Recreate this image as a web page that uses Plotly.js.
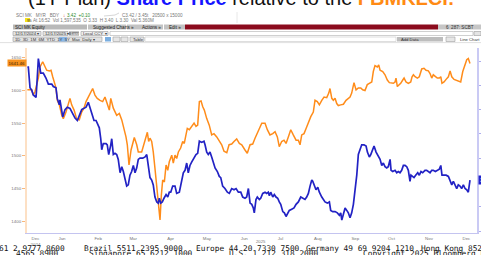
<!DOCTYPE html>
<html><head><meta charset="utf-8">
<script src="https://cdn.plot.ly/plotly-3.0.1.min.js"></script>
<style>html,body{margin:0;padding:0;background:#fff;overflow:hidden}#chart{width:481px;height:255px}</style>
</head><body><div id="chart"></div>
<script>
// ---- data (days counted from 2025-01-01) ----
const orangeDay=[-14.7,-11.1,-9.8,-8.4,-5.6,-4.2,-2.0,-0.1,1.3,3.5,4.9,6.3,7.6,9.0,10.1,11.8,13.8,15.1,17.3,19.2,20.6,22.0,24.0,26.2,28.3,30.3,32.2,33.9,35.8,37.8,39.4,41.3,43.2,45.5,47.7,49.6,51.5,53.2,54.4,56.5,59.3,61.5,63.5,65.4,67.0,68.1,69.5,71.2,72.6,73.9,75.9,77.2,80.0,81.9,83.6,84.7,85.8,86.9,88.3,89.6,91.0,92.5,93.8,95.2,96.3,97.4,98.8,100.2,101.6,102.9,104.9,106.2,107.6,109.0,110.4,112.3,114.0,115.3,116.7,117.8,119.5,121.5,123.4,125.0,126.4,127.8,129.2,130.6,131.9,133.9,136.0,138.0,139.9,142.2,144.3,146.3,148.2,150.5,152.4,154.6,156.5,158.7,160.9,162.9,165.6,167.5,169.8,172.0,173.9,176.6,179.5,182.2,184.1,186.3,188.6,190.5,192.4,194.0,196.0,197.9,199.6,201.5,203.5,205.6,207.9,209.8,211.2,212.6,214.5,216.2,218.1,220.1,222.2,223.6,225.5,227.2,229.2,231.1,233.3,235.0,236.0,237.5,238.8,240.2,241.6,242.9,244.9,247.1,249.3,251.2,252.6,254.0,255.9,257.6,259.5,261.5,263.1,265.0,266.9,268.6,270.6,271.9,273.3,275.2,276.4,277.5,279.7,281.6,283.5,285.2,287.2,288.5,289.9,290.7,291.8,293.5,294.6,296.3,297.4,299.0,300.9,302.9,304.0,305.1,306.5,308.4,310.0,312.0,313.9,315.6,317.5,318.9,320.3,321.6,323.3,324.9,326.6,327.8,328.8,330.5,332.2,334.1,335.5,336.9,338.8,340.4,342.3,344.3,346.0,347.9,349.3,350.6,352.0];
const orangeVal=[1601,1601,1593,1598,1619,1636,1644,1636,1631,1630,1631,1621,1613,1604,1585,1578,1562,1557,1567,1580,1588,1578,1570,1556,1555,1567,1573,1583,1590,1598,1603,1593,1588,1585,1583,1590,1580,1570,1588,1573,1562,1565,1555,1542,1529,1517,1486,1509,1517,1528,1517,1506,1506,1517,1527,1536,1522,1527,1522,1506,1481,1455,1435,1402,1440,1463,1460,1486,1478,1491,1501,1489,1501,1496,1506,1512,1522,1519,1532,1542,1540,1545,1550,1545,1547,1583,1584,1575,1570,1557,1547,1532,1534,1529,1522,1517,1507,1505,1517,1518,1522,1526,1519,1517,1509,1504,1517,1518,1527,1537,1550,1550,1540,1532,1534,1537,1529,1514,1522,1524,1519,1529,1540,1532,1524,1524,1517,1532,1534,1542,1552,1560,1567,1585,1583,1578,1585,1590,1589,1596,1603,1588,1585,1588,1580,1577,1578,1579,1585,1588,1590,1596,1612,1601,1604,1604,1601,1600,1609,1611,1613,1629,1638,1636,1639,1631,1629,1624,1616,1612,1612,1611,1613,1619,1606,1609,1611,1616,1619,1613,1611,1613,1621,1624,1621,1619,1621,1633,1634,1631,1630,1626,1619,1624,1621,1619,1619,1621,1611,1613,1617,1621,1630,1621,1617,1616,1614,1613,1629,1639,1647,1649,1641.46];
const blueDay=[-14.7,-13.9,-12.5,-11.1,-9.8,-8.4,-7.5,-6.5,-5.6,-4.8,-3.6,-1.5,0.7,2.7,5.5,6.8,9.0,10.1,11.8,12.3,13.8,14.6,16.5,18.4,20.6,22.9,24.8,26.7,28.9,30.3,32.2,33.9,35.8,37.2,38.6,40.5,42.2,43.6,44.9,46.1,46.9,48.2,50.5,51.5,52.7,54.4,55.2,56.5,57.9,59.3,60.6,62.1,63.5,64.8,66.2,67.6,68.9,70.3,71.7,73.1,74.5,75.9,77.2,78.6,80.9,82.8,84.2,85.5,86.9,88.3,89.6,91.0,92.5,93.8,94.6,95.8,97.1,98.5,100.2,101.6,102.9,104.1,105.7,107.6,109.0,111.2,113.2,114.5,115.9,117.3,118.6,120.0,121.5,123.4,125.0,126.4,127.8,129.7,131.6,132.5,133.9,135.2,136.6,138.0,139.4,140.8,142.7,144.3,145.5,147.1,149.0,151.0,152.6,154.6,156.5,158.2,160.1,162.1,163.7,165.6,167.0,168.4,169.8,171.2,172.5,173.3,174.7,175.8,177.5,178.6,180.3,182.2,183.6,184.9,185.8,186.9,188.6,189.9,191.3,192.7,194.0,195.2,196.9,198.2,199.6,201.0,202.3,204.3,206.2,207.9,209.8,211.8,213.4,215.3,216.7,218.1,219.5,220.9,221.7,222.8,224.4,225.9,227.2,229.2,230.5,231.9,233.8,235.5,236.6,238.3,240.2,242.1,243.8,244.9,245.8,247.1,248.5,249.9,251.2,252.6,254.0,255.4,256.8,258.2,259.5,260.9,262.3,264.2,265.9,267.0,268.6,269.8,271.4,272.5,274.2,276.1,277.5,278.9,280.2,281.6,283.0,284.3,285.8,286.6,288.0,289.9,291.3,292.6,294.0,295.4,296.8,298.2,299.6,300.9,302.3,303.1,304.6,305.6,307.0,308.7,310.0,311.4,312.8,314.7,316.1,317.5,318.9,320.3,321.6,323.3,324.9,326.6,327.8,328.8,330.5,332.2,334.1,335.5,336.9,338.2,339.6,341.0,342.3,343.7,345.1,346.5,347.9,349.3,350.6,352.0];
const blueVal=[4.35,4.35,4.18,4.16,4.12,4.11,4.10,4.26,4.42,4.37,4.30,4.30,4.26,4.21,4.21,4.19,4.18,4.09,4.04,4.08,3.96,3.94,4.00,4.02,4.01,3.97,3.93,3.91,3.96,4.00,4.01,4.02,4.06,4.01,3.96,3.91,3.91,3.87,3.85,3.76,3.67,3.72,3.72,3.71,3.63,3.71,3.76,3.63,3.64,3.63,3.59,3.48,3.53,3.49,3.44,3.37,3.38,3.46,3.49,3.54,3.48,3.52,3.59,3.60,3.60,3.61,3.63,3.52,3.44,3.42,3.38,3.28,3.24,3.23,3.27,3.23,3.24,3.27,3.30,3.28,3.32,3.32,3.37,3.37,3.31,3.32,3.41,3.48,3.50,3.56,3.48,3.54,3.57,3.60,3.63,3.64,3.74,3.73,3.74,3.71,3.65,3.63,3.65,3.61,3.56,3.52,3.49,3.45,3.44,3.37,3.35,3.32,3.31,3.35,3.34,3.35,3.32,3.32,3.28,3.27,3.28,3.35,3.23,3.22,3.19,3.15,3.26,3.28,3.26,3.27,3.31,3.32,3.31,3.32,3.29,3.32,3.28,3.30,3.28,3.27,3.24,3.22,3.16,3.15,3.12,3.15,3.17,3.18,3.19,3.22,3.24,3.28,3.27,3.26,3.28,3.31,3.37,3.42,3.41,3.38,3.34,3.36,3.32,3.28,3.26,3.24,3.23,3.24,3.17,3.16,3.16,3.15,3.13,3.15,3.09,3.13,3.19,3.17,3.15,3.11,3.15,3.22,3.32,3.46,3.63,3.68,3.71,3.71,3.70,3.65,3.61,3.63,3.68,3.70,3.65,3.61,3.59,3.54,3.56,3.53,3.52,3.53,3.59,3.50,3.49,3.50,3.48,3.49,3.48,3.50,3.54,3.54,3.53,3.50,3.41,3.46,3.45,3.44,3.46,3.48,3.46,3.49,3.48,3.50,3.50,3.49,3.48,3.50,3.50,3.49,3.50,3.51,3.54,3.46,3.46,3.46,3.45,3.41,3.38,3.41,3.38,3.35,3.38,3.37,3.35,3.38,3.35,3.34,3.32,3.42];
const monthTickDay=[-8,14,44,73,104,134,165,195,226,257,287,318,349];
const monthTickText=['Dec<br>2024','Jan','Feb','Mar','Apr','May','Jun','Jul','Aug','Sep','Oct','Nov','Dec'];
const leftTicks=[1400,1450,1500,1550,1600,1650];
const rightTicks=[3.0,3.2,3.4,3.6,3.8,4.0,4.2,4.4];
const xRangeDay=[-15.0,357.8];
const leftRange=[1382,1665];
const rightRange=[2.984,4.507];

// ---- helpers ----
function dayToDate(d){const ms=Date.UTC(2025,0,1)+Math.round(d*86400000);return new Date(ms).toISOString().slice(0,19).replace('T',' ');}
const W=481,H=255,L=27,R=477,T=48,B=233;
const PX=x=>(x-L)/(R-L), PY=y=>(B-y)/(B-T);

const shapes=[], ann=[];
function rect(x0,y0,x1,y1,fill,line){shapes.push({type:'rect',xref:'paper',yref:'paper',x0:PX(x0),x1:PX(x1),y0:PY(y1),y1:PY(y0),fillcolor:fill,line:{color:line||fill,width:line?0.6:0},layer:'above'});}
function hline(x0,x1,y,c,w){shapes.push({type:'line',xref:'paper',yref:'paper',x0:PX(x0),x1:PX(x1),y0:PY(y),y1:PY(y),line:{color:c,width:w||1},layer:'above'});}
function vline(x,y0,y1,c,w){shapes.push({type:'line',xref:'paper',yref:'paper',x0:PX(x),x1:PX(x),y0:PY(y0),y1:PY(y1),line:{color:c,width:w||1},layer:'above'});}
function txt(x,y,t,o){o=o||{};ann.push({xref:'paper',yref:'paper',x:PX(x),y:PY(y),text:t,showarrow:false,xanchor:o.anchor||'left',yanchor:'middle',borderpad:0,font:{family:o.family||'Liberation Sans, Arial, sans-serif',size:o.size||4.6,color:o.color||'#444'}});}

// ---- title (cut off at top) ----
ann.push({xref:'paper',yref:'paper',x:PX(27),y:PY(-1.6),xanchor:'left',yanchor:'middle',showarrow:false,borderpad:0,
 text:'(1Y Plan) <b><span style="color:#1414ff">Share Price</span></b> relative to the <b><span style="color:#ff8a14">FBMKLCI:</span></b>',
 font:{family:'Liberation Sans, Arial, sans-serif',size:20,color:'#111'}});

// ---- Bloomberg header ----
txt(15,15,'SCI MK   MYR   BDY',{color:'#777'});
txt(62,15,'↓',{color:'#d02020'});
txt(66,15,'3.42  +0.10',{color:'#2c8c2c'});
shapes.push({type:'path',xref:'paper',yref:'paper',layer:'above',line:{color:'#bbb',width:0.6},
 path:'M '+PX(104)+' '+PY(16)+' L '+PX(110)+' '+PY(15.5)+' L '+PX(115)+' '+PY(15)+' L '+PX(119)+' '+PY(13)});
txt(121,15,'C3.42 / 3.45t   20500 x 15000',{color:'#777'});
rect(25,18,30,22,'#f3e21a');
txt(26,20,'95',{color:'#333',size:4.2});
txt(32,20,'At 16:52  Vol 1,597,535  O 3.33  H 3.40  L 3.30  Val 5.360M',{color:'#777'});
vline(237,12,23,'#e2e2e2',0.8);

rect(13,24.5,87,29.5,'#b9b9b9');
rect(88,24.5,126,29.5,'#c3c3c3');
rect(127,24.5,163,29.5,'#c3c3c3');
rect(164,24.5,185,29.5,'#c3c3c3');
rect(185,24.5,438,29.5,'#8b0b1d');
rect(438,24.5,481,29.5,'#c6c6c6');
txt(14,27,'SCI MK Equity',{color:'#222'});
txt(92,27,'Suggested Charts »',{color:'#222'});
txt(141,27,'Actions »',{color:'#222'});
txt(168,27,'Edit »',{color:'#222'});
txt(445,27,'6  287: SCBT',{color:'#333'});

rect(13,31.5,41,35.5,'#e4e4e4','#9a9a9a');
rect(43,31.5,68,35.5,'#e4e4e4','#9a9a9a');
rect(69,31.5,79,35.5,'#8e8e8e');
rect(81,31.5,108,35.5,'#eeeeee','#9a9a9a');
rect(110,31.5,473,35.5,'#ffffff','#b0b0b0');
rect(474,31.5,481,35.5,'#e4e4e4','#9a9a9a');
txt(14,33.5,'12/17/2024 ▾',{color:'#333',size:4.2});
txt(44,33.5,'12/17/2025 ▾',{color:'#333',size:4.2});
txt(70,33.5,'Last',{color:'#fff',size:4.2});
txt(82,33.5,'Local CCY  ▾',{color:'#333',size:4.2});

rect(13,37,102,41.5,'#e2e2e2','#a0a0a0');
rect(59,37,67,41.5,'#8ab8e8');
txt(14,39.3,'1D  3D  1M  6M  YTD  1Y  5Y  Max  Daily ▾',{color:'#333',size:4.2});
rect(105,37,111,41.5,'#7aaee0');
rect(113,37,120,41.5,'#e6e6e6','#a0a0a0');
rect(121,37,128,41.5,'#e6e6e6','#a0a0a0');
rect(130,37,144,41.5,'#e6e6e6','#a0a0a0');
txt(132,39.3,'Table',{color:'#333',size:4.2});
rect(145,37,396,41.5,'#ffffff','#c8c8c8');
rect(397,37,443,41.5,'#bdbdbd');
txt(400,39.3,'Add Data',{color:'#333',size:4.2});
rect(446,37,455,41.5,'#e6e6e6','#a0a0a0');
txt(459,39.3,'Line Chart',{color:'#333',size:4.2});
hline(0,481,42.6,'#d8d8d8',0.8);

// ---- footer ----
const mono='DejaVu Sans Mono, Liberation Mono, monospace';
txt(-2,248,'61 2 9777 8600',{family:mono,size:7.8,color:'#111'});
txt(83,248,'Brazil 5511 2395 9000',{family:mono,size:7.8,color:'#111'});
txt(195,248,'Europe 44 20 7330 7500',{family:mono,size:7.8,color:'#111'});
txt(305,248,'Germany 49 69 9204 1210',{family:mono,size:7.8,color:'#111'});
txt(420,248,'Hong Kong 852 2977 6000',{family:mono,size:7.8,color:'#111'});
txt(15,253.5,'4565 8900',{family:mono,size:7.8,color:'#111'});
txt(88,253.5,'Singapore 65 6212 1000',{family:mono,size:7.8,color:'#111'});
txt(228,253.5,'U.S. 1 212 318 2000',{family:mono,size:7.8,color:'#111'});
txt(362,253.5,'Copyright 2025 Bloomberg Finance L.P.',{family:mono,size:7.8,color:'#111'});
txt(255,241,'2025',{color:'#777',size:4.2});

// ---- value markers ----
const oLast=orangeVal[orangeVal.length-1], bLast=blueVal[blueVal.length-1];
ann.push({xref:'paper',yref:'y',x:PX(26.5),y:oLast,xanchor:'right',yanchor:'middle',showarrow:false,text:oLast.toFixed(2),bgcolor:'#f7921e',borderpad:0.6,font:{family:'Liberation Sans, Arial, sans-serif',size:4.4,color:'#3a1a00'}});
ann.push({xref:'paper',yref:'y2',x:PX(477.5),y:bLast,xanchor:'left',yanchor:'middle',showarrow:false,text:bLast.toFixed(2),bgcolor:'#2222cc',borderpad:1,font:{family:'Liberation Sans, Arial, sans-serif',size:5,color:'#fff'}});

const traces=[
 {x:orangeDay.map(dayToDate),y:orangeVal,type:'scatter',mode:'lines',line:{color:'#ff8c1a',width:1.5},yaxis:'y',hoverinfo:'skip'},
 {x:blueDay.map(dayToDate),y:blueVal,type:'scatter',mode:'lines',line:{color:'#2222c4',width:1.7},yaxis:'y2',hoverinfo:'skip'}
];
const layout={
 width:W,height:H,margin:{l:L,r:W-R,t:T,b:H-B,pad:0},
 paper_bgcolor:'#fff',plot_bgcolor:'#fff',showlegend:false,
 xaxis:{type:'date',range:[dayToDate(xRangeDay[0]),dayToDate(xRangeDay[1])],tickvals:monthTickDay.map(dayToDate),ticktext:monthTickText,
   showgrid:false,zeroline:false,showline:true,linecolor:'#c4c4f0',linewidth:1.2,ticks:'',ticklabelstandoff:1,
   tickfont:{family:'Liberation Sans, Arial, sans-serif',size:4.4,color:'#777'}},
 yaxis:{range:leftRange,tickvals:leftTicks,ticktext:leftTicks.map(String),showgrid:false,zeroline:false,showline:true,linecolor:'#fde0c4',linewidth:2,
   ticks:'outside',ticklen:3,tickcolor:'#f7a55a',tickwidth:0.8,tickfont:{family:'Liberation Sans, Arial, sans-serif',size:4.4,color:'#777'}},
 yaxis2:{range:rightRange,overlaying:'y',side:'right',tickvals:rightTicks,ticktext:rightTicks.map(v=>v.toFixed(2)),showgrid:false,zeroline:false,showline:true,linecolor:'#cacaf4',linewidth:1.5,
   ticks:'outside',ticklen:3,tickcolor:'#9a9ae8',tickwidth:0.8,tickfont:{family:'Liberation Sans, Arial, sans-serif',size:4.4,color:'#777'}},
 shapes:shapes,annotations:ann
};
Plotly.newPlot('chart',traces,layout,{staticPlot:true,displayModeBar:false});
</script></body></html>
